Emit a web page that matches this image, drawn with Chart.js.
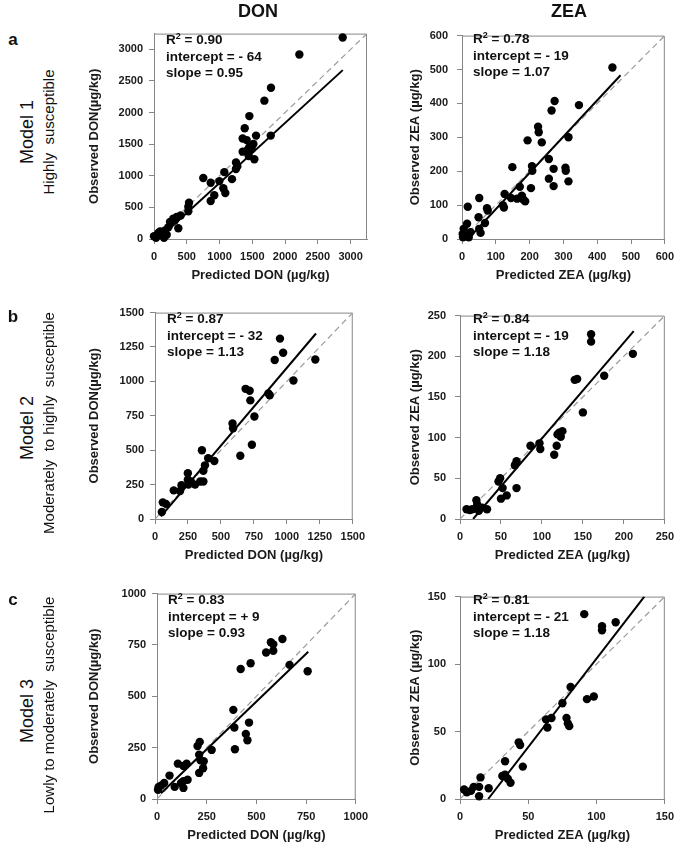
<!DOCTYPE html>
<html>
<head>
<meta charset="utf-8">
<script src="https://cdn.jsdelivr.net/npm/chart.js@4/dist/chart.umd.min.js"></script>
<style>
  body { margin:0; background:#fff; width:685px; height:847px; position:relative; overflow:hidden;
         font-family:"Liberation Sans", Arial, sans-serif; color:#111; }
  canvas { position:absolute; }
  .lbl { position:absolute; white-space:nowrap; }
  .ctr { transform:translate(-50%,-50%); }
  .rot { transform:translate(-50%,-50%) rotate(-90deg); }
  .head { font-weight:bold; font-size:18px; }
  .letter { font-weight:bold; font-size:17px; }
  .model { font-size:18px; }
  .sub { font-size:15px; }
  .stats { font-weight:bold; font-size:13.5px; line-height:16px; }
  .stats span { position:relative; top:-5px; font-size:9px; }
</style>
</head>
<body>
<script>
// ---- data ----
var donTicks1 = [0, 500, 1000, 1500, 2000, 2500, 3000];
var zeaTicks1 = [0, 100, 200, 300, 400, 500, 600];
var donTicks2 = [0, 250, 500, 750, 1000, 1250, 1500];
var zeaTicks2 = [0, 50, 100, 150, 200, 250];
var donTicks3 = [0, 250, 500, 750, 1000];
var zeaTicks3 = [0, 50, 100, 150];

// Model 1 - DON
var m1DonPred = [2879, 2218, 1785, 1684, 1455, 1384, 1557, 1781, 1353, 1414, 1516, 1455, 1353, 1430, 1491, 1445, 1531, 1251, 1271, 1250,
                 1073, 752, 997, 865, 1190, 1058, 1088, 920, 865, 534, 524, 524, 407, 346, 295, 320, 244, 371, 219, 168, 92, 133, 31, 0, 66, 153, 194];
var m1DonObs  = [3189, 2920, 2393, 2189, 1945, 1753, 1636, 1636, 1590, 1565, 1504, 1453, 1382, 1413, 1423, 1312, 1261, 1210, 1149, 1108,
                 1058, 966, 916, 890, 947, 804, 728, 692, 601, 575, 510, 438, 373, 347, 323, 297, 271, 170, 186, 134, 119, 68, 18, 43, 94, 18, 68];
var m1DonFitX = [100, 2880];
var m1DonFitY = [31, 2672];
var m1DonStats = ['0.90', '- 64', '0.95'];

// Model 1 - ZEA
var m1ZeaPred = [445, 274, 265, 346, 225, 227, 194, 236, 315, 257, 271, 306, 307, 315, 257, 271, 207, 208, 149, 171, 204, 177,
                 182, 187, 163, 145, 126, 121, 124, 51, 74, 76, 49, 68, 17, 51, 55, 5, 2, 10, 20, 15, 25, 3];
var m1ZeaObs  = [506, 407, 379, 395, 331, 315, 291, 285, 300, 236, 207, 210, 201, 170, 178, 156, 215, 201, 212, 154, 150, 128,
                 116, 111, 119, 121, 133, 100, 93, 121, 91, 84, 64, 47, 95, 30, 18, 30, 15, 10, 5, 45, 20, 5];
var m1ZeaFitX = [18, 469];
var m1ZeaFitY = [0, 483];
var m1ZeaStats = ['0.78', '- 19', '1.07'];

// Model 2 - DON
var m2DonPred = [948, 972, 908, 1216, 1050, 687, 718, 723, 860, 870, 754, 588, 592, 735, 647, 356, 403, 450, 379, 367,
                 249, 343, 367, 304, 272, 254, 201, 190, 142, 249, 59, 83, 52];
var m2DonObs  = [1311, 1208, 1155, 1159, 1007, 946, 932, 862, 913, 899, 745, 694, 659, 540, 460, 500, 442, 421, 390, 350,
                 332, 273, 273, 250, 273, 250, 245, 203, 208, 285, 121, 110, 51];
var m2DonFitX = [45, 1221];
var m2DonFitY = [19, 1348];
var m2DonStats = ['0.87', '- 32', '1.13'];

// Model 2 - ZEA
var m2ZeaPred = [160, 160, 211, 176, 140, 143, 150, 121, 125, 123, 119, 118, 115, 86, 97, 98, 69, 67, 49, 47,
                 52, 69, 50, 57, 20, 21, 33, 27, 15, 23, 8, 12];
var m2ZeaObs  = [227, 218, 203, 176, 171, 172, 131, 106, 108, 101, 104, 90, 79, 90, 93, 86, 71, 66, 50, 46,
                 38, 38, 25, 29, 23, 18, 12, 14, 12, 10, 12, 11];
var m2ZeaFitX = [16, 212];
var m2ZeaFitY = [0, 231];
var m2ZeaStats = ['0.84', '- 19', '1.18'];

// Model 3 - DON
var m3DonPred = [631, 573, 585, 585, 549, 471, 421, 667, 758, 384, 463, 389, 447, 455, 392, 215, 204, 275, 212, 219,
                 235, 232, 212, 105, 149, 133, 63, 133, 154, 121, 89, 36, 133, 8, 5, 20];
var m3DonObs  = [779, 763, 753, 722, 713, 661, 633, 653, 622, 434, 372, 348, 317, 286, 242, 278, 258, 239, 216, 188,
                 184, 150, 127, 172, 172, 161, 114, 87, 94, 78, 59, 78, 54, 59, 45, 65];
var m3DonFitX = [20, 761];
var m3DonFitY = [28, 717];
var m3DonStats = ['0.83', '+ 9', '0.93'];

// Model 3 - ZEA
var m3ZeaPred = [91, 104, 104, 114, 81, 93, 98, 75, 67, 63, 64, 78, 79, 80, 43, 44, 46, 33, 33, 35,
                 37, 31, 15, 14, 10, 21, 5, 8, 3, 14];
var m3ZeaObs  = [137, 128, 125, 131, 83, 74, 76, 71, 60, 59, 53, 60, 56, 54, 42, 40, 24, 28, 18, 15,
                 12, 17, 16, 9, 9, 8, 5, 6, 7, 2];
var m3ZeaFitX = [20.6, 135];
var m3ZeaFitY = [0, 150];
var m3ZeaStats = ['0.81', '- 21', '1.18'];

// ---- layout ----
var FONT = '"Liberation Sans", Arial, sans-serif';
var GREY = '#868686';
Chart.defaults.font.family = FONT;

var DON_X = 'Predicted DON (µg/kg)', DON_Y = 'Observed DON(µg/kg)';
var ZEA_X = 'Predicted ZEA (µg/kg)', ZEA_Y = 'Observed ZEA (µg/kg)';

var panels = [
  { left: 87,  boxL: 154, boxT: 26,  boxR: 367, boxB: 239, max: 3250, ticks: donTicks1, xt: DON_X, yt: DON_Y, pred: m1DonPred, obs: m1DonObs, fx: m1DonFitX, fy: m1DonFitY, stats: m1DonStats, pad: 6, sx: 12 },
  { left: 408, boxL: 462, boxT: 25,  boxR: 675, boxB: 239, max: 600,  ticks: zeaTicks1, xt: ZEA_X, yt: ZEA_Y, pred: m1ZeaPred, obs: m1ZeaObs, fx: m1ZeaFitX, fy: m1ZeaFitY, stats: m1ZeaStats, pad: 9, sx: 11 },
  { left: 87,  boxL: 155, boxT: 305, boxR: 366, boxB: 519, max: 1500, ticks: donTicks2, xt: DON_X, yt: DON_Y, pred: m2DonPred, obs: m2DonObs, fx: m2DonFitX, fy: m2DonFitY, stats: m2DonStats, pad: 6, sx: 12 },
  { left: 408, boxL: 460, boxT: 305, boxR: 675, boxB: 519, max: 250,  ticks: zeaTicks2, xt: ZEA_X, yt: ZEA_Y, pred: m2ZeaPred, obs: m2ZeaObs, fx: m2ZeaFitX, fy: m2ZeaFitY, stats: m2ZeaStats, pad: 9, sx: 13 },
  { left: 87,  boxL: 157, boxT: 586, boxR: 369, boxB: 799, max: 1000, ticks: donTicks3, xt: DON_X, yt: DON_Y, pred: m3DonPred, obs: m3DonObs, fx: m3DonFitX, fy: m3DonFitY, stats: m3DonStats, pad: 6, sx: 11 },
  { left: 408, boxL: 460, boxT: 586, boxR: 675, boxB: 799, max: 150,  ticks: zeaTicks3, xt: ZEA_X, yt: ZEA_Y, pred: m3ZeaPred, obs: m3ZeaObs, fx: m3ZeaFitX, fy: m3ZeaFitY, stats: m3ZeaStats, pad: 9, sx: 13 }
];

// top + right edges of the plot box (the scales draw left + bottom)
var frame = {
  id: 'frame',
  beforeDatasetsDraw: function (chart) {
    var a = chart.chartArea, ctx = chart.ctx;
    ctx.save();
    ctx.strokeStyle = GREY;
    ctx.lineWidth = 1;
    ctx.beginPath();
    ctx.moveTo(a.left, a.top + 0.5);
    ctx.lineTo(a.right - 0.5, a.top + 0.5);
    ctx.lineTo(a.right - 0.5, a.bottom);
    ctx.stroke();
    ctx.restore();
  }
};

function addLabel(html, cls, x, y) {
  var d = document.createElement('div');
  d.className = 'lbl ' + cls;
  d.innerHTML = html;
  d.style.left = x + 'px';
  d.style.top = y + 'px';
  document.body.appendChild(d);
  return d;
}

function axis(p, title, isX) {
  return {
    type: 'linear', min: 0, max: p.max,
    afterBuildTicks: function (s) { s.ticks = p.ticks.map(function (v) { return { value: v }; }); },
    afterFit: function (s) { if (isX) s.height = 44; else s.width = p.boxL - p.left; },
    grid: { drawOnChartArea: false, drawTicks: true, tickLength: 5, color: GREY },
    border: { display: true, color: GREY, width: 1 },
    ticks: { padding: isX ? 6 : p.pad, autoSkip: false, maxRotation: 0, color: '#1a1a1a',
             font: { size: 11, weight: 'bold' },
             callback: function (v) { return String(v); } },
    title: { display: true, text: title, color: '#1a1a1a', padding: 0, font: { size: 13, weight: 'bold' } }
  };
}

function makePanel(p) {
  var c = document.createElement('canvas');
  var w = p.boxR - p.left + 5, h = (p.boxB - p.boxT) + 5 + 44;
  c.width = w; c.height = h;
  c.style.left = p.left + 'px';
  c.style.top = (p.boxT - 5) + 'px';
  document.body.appendChild(c);

  var pts = p.pred.map(function (x, i) { return { x: x, y: p.obs[i] }; });
  var fit = p.fx.map(function (x, i) { return { x: x, y: p.fy[i] }; });

  new Chart(c, {
    type: 'scatter',
    data: {
      datasets: [
        { data: pts, pointRadius: 4.2, backgroundColor: '#000', borderWidth: 0, clip: false },
        { data: fit, showLine: true, borderColor: '#000', borderWidth: 2, pointRadius: 0 },
        { data: [{ x: 0, y: 0 }, { x: p.max, y: p.max }], showLine: true, borderColor: '#9c9c9c',
          borderWidth: 1.2, borderDash: [6, 4], pointRadius: 0 }
      ]
    },
    options: {
      responsive: false, animation: false, events: [],
      layout: { padding: { top: 5, right: 5, left: 0, bottom: 0 } },
      plugins: { legend: { display: false }, tooltip: { enabled: false } },
      scales: { x: axis(p, p.xt, true), y: axis(p, p.yt, false) }
    },
    plugins: [frame]
  });

  addLabel('R<span>2</span> = ' + p.stats[0] + '<br>intercept = ' + p.stats[1] + '<br>slope = ' + p.stats[2],
           'stats', p.boxL + p.sx, p.boxT + 6);
}

panels.forEach(makePanel);

// headers and row labels
addLabel('DON', 'head ctr', 258, 11);
addLabel('ZEA', 'head ctr', 569, 11);
addLabel('a', 'letter ctr', 13, 40);
addLabel('b', 'letter ctr', 13, 317);
addLabel('c', 'letter ctr', 13, 600);
addLabel('Model 1', 'model rot', 27, 132);
addLabel('Highly &nbsp;susceptible', 'sub rot', 48, 132);
addLabel('Model 2', 'model rot', 27, 428);
addLabel('Moderately &nbsp;to highly &nbsp;susceptible', 'sub rot', 48, 423);
addLabel('Model 3', 'model rot', 27, 711);
addLabel('Lowly to moderately &nbsp;susceptible', 'sub rot', 48, 705);
</script>
</body>
</html>
